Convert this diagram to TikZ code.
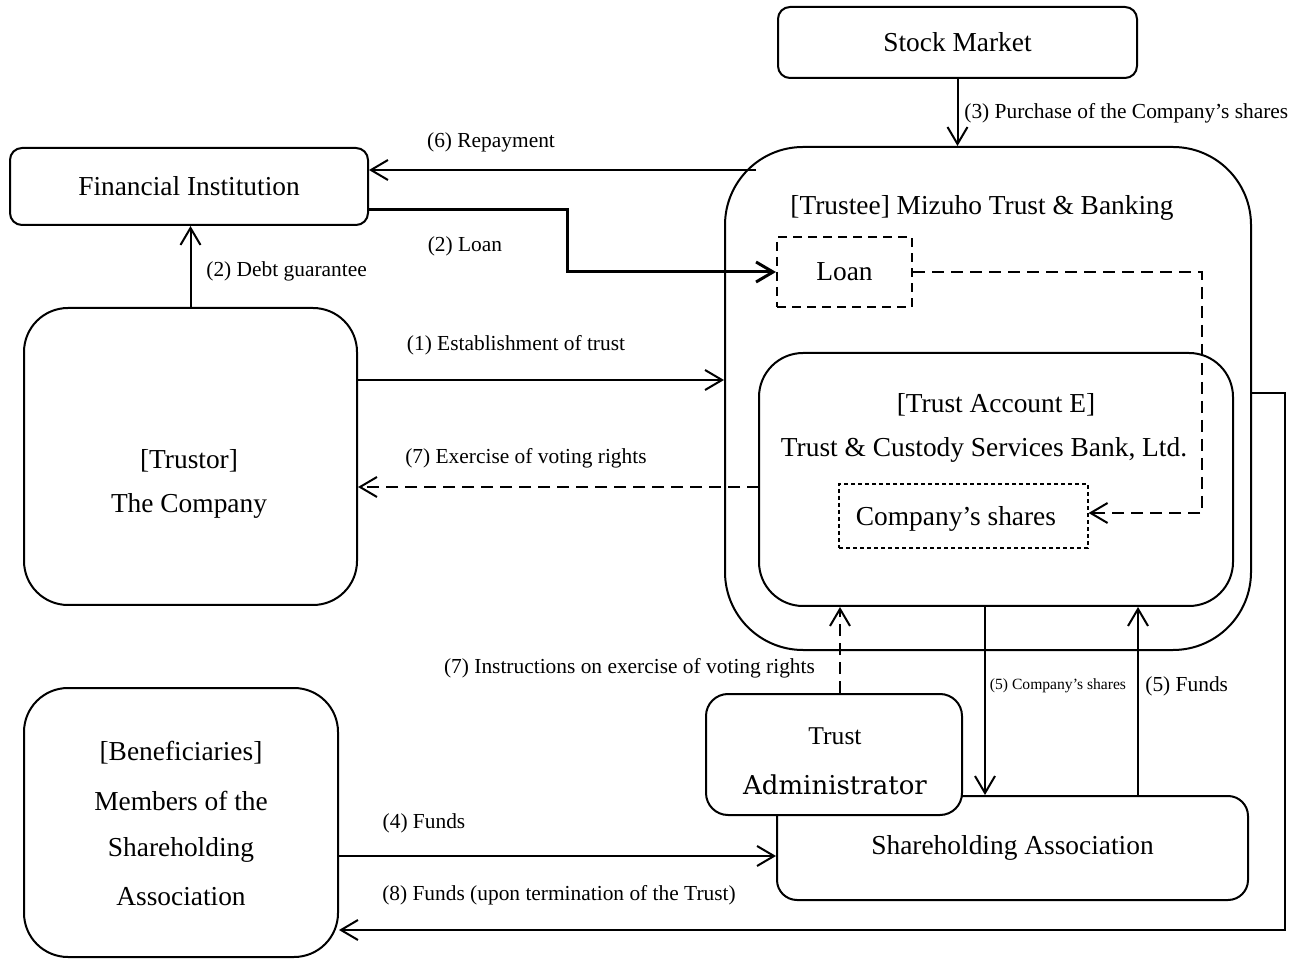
\documentclass[tikz,border=0pt]{standalone}
\usepackage{fontspec}
\newfontfamily\tnr{Liberation Serif}
\newfontfamily\dvs{DejaVu Serif}
\usetikzlibrary{arrows.meta}
\begin{document}
\begin{tikzpicture}[x=0.5pt,y=-0.5pt,
 box/.style={draw,line width=1pt,inner sep=0pt,fill=white},
 txt/.style={font=\tnr\fontsize{13.7}{16}\selectfont,inner sep=0pt},
 lbl/.style={font=\tnr\fontsize{10.7}{13}\selectfont,inner sep=0pt},
 tinylbl/.style={font=\tnr\fontsize{7.8}{9}\selectfont,inner sep=0pt},
 conn/.style={line width=1pt,-{Straight Barb[length=8.5pt,width=10pt]}},
 dsh/.style={dash pattern=on 6pt off 3.5pt},
]
\useasboundingbox (0,0) rectangle (1305,961);

% boxes
\node[box,rounded corners=6pt,minimum width=179.5pt,minimum height=35.5pt,txt] (sm) at (957.5,42.5) {Stock Market};
\node[box,rounded corners=6pt,minimum width=179pt,minimum height=38.5pt,txt] (fi) at (189,186.5) {Financial Institution};
\node[box,rounded corners=39pt,minimum width=263pt,minimum height=251.5pt] (trustee) at (988,398.5) {};
\node[txt] (trusteet) at (982,208) {[Trustee] Mizuho Trust \& Banking};
\node[box,dash pattern=on 4.5pt off 3pt,minimum width=67.5pt,minimum height=35pt,txt] (loan) at (844.5,272) {Loan};
\node[box,rounded corners=22pt,minimum width=237pt,minimum height=126.5pt] (tae) at (996,479.5) {};
\node[txt] (taet1) at (996,405) {[Trust Account E]};
\node[txt] (taet2) at (984,450) {Trust \& Custody Services Bank, Ltd.};
\node[box,line width=0.6pt,dash pattern=on 2pt off 1.5pt,minimum width=124.5pt,minimum height=32pt] (cs) at (963.5,516) {};
\node[txt] (cst) at (956,519) {Company’s shares};
\node[box,rounded corners=22pt,minimum width=166.5pt,minimum height=148.5pt] (trustor) at (190.5,456.5) {};
\node[txt] (trustor1) at (189,461) {[Trustor]};
\node[txt] (trustor2) at (189,506) {The Company};
\node[box,rounded corners=22pt,minimum width=157pt,minimum height=134.5pt] (bene) at (181,822.5) {};
\node[txt] (bene1) at (181,753) {[Beneficiaries]};
\node[txt] (bene2) at (181,801) {Members of the};
\node[txt] (bene3) at (181,850) {Shareholding};
\node[txt] (bene4) at (181,897) {Association};
\node[box,rounded corners=10pt,minimum width=235.5pt,minimum height=52pt,txt] (sa) at (1012.5,848) {Shareholding Association};
\node[box,rounded corners=11pt,minimum width=128pt,minimum height=60.5pt] (ta) at (834,754.5) {};
\node[font=\tnr\fontsize{12.8}{15}\selectfont,inner sep=0pt] (ta1) at (835,736) {Trust};
\node[font=\dvs\fontsize{13}{16}\selectfont,inner sep=0pt] (ta2) at (835,785) {Administrator};

% helper coordinates
\coordinate (rp) at (756,170);
\coordinate (l1) at (368,210);
\coordinate (l2) at (567,272);
\coordinate (e1) at (357,380);
\coordinate (v1) at (759,487);
\coordinate (lc) at (1202,513);
\coordinate (ix) at (840,0);
\coordinate (s5) at (985,0);
\coordinate (f5) at (1138,0);
\coordinate (f4) at (0,856);
\coordinate (f8a) at (1251,393);
\coordinate (f8) at (1285,930);

% connectors
\draw[conn] (sm.south) -- (sm.south |- trustee.north);
\draw[conn] (rp) -- (rp -| fi.east);
\draw[conn,line width=1.5pt] (l1) -| (l2) -- (loan.west);
\draw[conn] (trustor.north) -- (trustor.north |- fi.south);
\draw[conn] (e1) -- (e1 -| trustee.west);
\draw[conn,dsh] (v1) -- (v1 -| trustor.east);
\draw[conn,dsh] (loan.east) -| (lc) -- (lc -| cs.east);
\draw[conn,dsh] (ix |- ta.north) -- (ix |- tae.south);
\draw[conn] (s5 |- tae.south) -- (s5 |- sa.north);
\draw[conn] (f5 |- sa.north) -- (f5 |- tae.south);
\draw[conn] (f4 -| bene.east) -- (f4 -| sa.west);
\draw[conn] (f8a) -| (f8) -- (f8 -| bene.east);

% labels
\node[lbl,anchor=west] (lb3) at (964,113) {(3) Purchase of the Company’s shares};
\node[lbl] (lb6) at (491,142) {(6) Repayment};
\node[lbl] (lb2) at (465,246) {(2) Loan};
\node[lbl,anchor=west] (lb2b) at (206,271) {(2) Debt guarantee};
\node[lbl] (lb1) at (516,345) {(1) Establishment of trust};
\node[lbl] (lb7) at (526,458) {(7) Exercise of voting rights};
\node[lbl] (lb7b) at (629.5,668) {(7) Instructions on exercise of voting rights};
\node[tinylbl] (lb5a) at (1058,686) {(5) Company’s shares};
\node[lbl,anchor=west] (lb5b) at (1145,686) {(5) Funds};
\node[lbl] (lb4) at (424,823) {(4) Funds};
\node[lbl] (lb8) at (559,895) {(8) Funds (upon termination of the Trust)};
\end{tikzpicture}
\end{document}
